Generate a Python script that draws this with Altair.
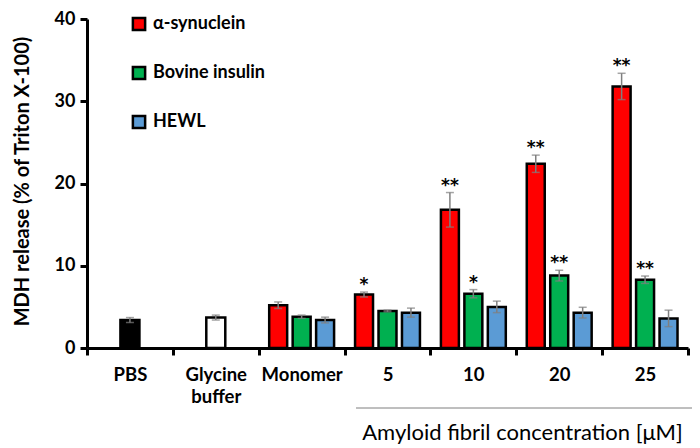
import altair as alt
import pandas as pd

FONT = "Lato"

categories = ["PBS", "Glycine buffer", "Monomer", "5", "10", "20", "25"]

control_cats = ["PBS", "Glycine buffer"]
control_mean = [3.4, 3.7]
control_err = [0.3, 0.3]

group_cats = ["Monomer", "5", "10", "20", "25"]
series = ["α-synuclein", "Bovine insulin", "HEWL"]
colors = ["#ff0000", "#00b050", "#5b9bd5"]

syn_mean = [5.2, 6.5, 16.8, 22.4, 31.8]
syn_err = [0.4, 0.3, 2.1, 1.05, 1.6]
syn_sig = ["", "*", "**", "**", "**"]

ins_mean = [3.8, 4.5, 6.6, 8.8, 8.3]
ins_err = [0.2, 0.1, 0.5, 0.65, 0.45]
ins_sig = ["", "", "*", "**", "**"]

hewl_mean = [3.4, 4.3, 5.0, 4.3, 3.6]
hewl_err = [0.35, 0.55, 0.7, 0.65, 1.0]
hewl_sig = ["", "", "", "", ""]

rows = []
for s, means, errs, sigs in zip(
    series,
    [syn_mean, ins_mean, hewl_mean],
    [syn_err, ins_err, hewl_err],
    [syn_sig, ins_sig, hewl_sig],
):
    for c, m, e, st in zip(group_cats, means, errs, sigs):
        rows.append(dict(cat=c, series=s, mean=m, lo=m - e, hi=m + e, sig=st))
grp = pd.DataFrame(rows)

ctrl = pd.DataFrame(
    dict(
        cat=control_cats,
        mean=control_mean,
        lo=[m - e for m, e in zip(control_mean, control_err)],
        hi=[m + e for m, e in zip(control_mean, control_err)],
    )
)

x_axis = alt.Axis(
    title="Amyloid fibril concentration [μM]",
    titleX=435,
    titleY=91,
    titleAlign="center",
    titleBaseline="alphabetic",
    titleFontSize=22,
    titleFontWeight="normal",
    titleFont=FONT,
    titleColor="black",
    labelAngle=0,
    labelFont=FONT,
    labelFontSize=18.5,
    labelFontWeight="bold",
    labelColor="black",
    labelPadding=10,
    labelBaseline="top",
    labelLineHeight=22,
    labelExpr="datum.value == 'Glycine buffer' ? ['Glycine', 'buffer'] : datum.value",
    tickBand="extent",
    tickSize=7,
    tickWidth=3,
    tickColor="black",
    domainColor="black",
    domainWidth=3,
    grid=False,
)

y_axis = alt.Axis(
    title="MDH release (% of Triton X-100)",
    titleFont=FONT,
    titleFontSize=20,
    titleFontWeight="bold",
    titleColor="black",
    titleX=-65,
    titleY=162,
    titleAlign="center",
    titleBaseline="middle",
    titleAngle=270,
    values=[0, 10, 20, 30, 40],
    labelFont=FONT,
    labelFontSize=18,
    labelFontWeight="bold",
    labelColor="black",
    labelPadding=5,
    tickSize=7,
    tickWidth=3,
    tickColor="black",
    domainColor="black",
    domainWidth=3,
    grid=False,
)

xs = alt.Scale(domain=categories, paddingInner=0, paddingOuter=0)
ys = alt.Scale(domain=[0, 40], nice=False)
xo = alt.XOffset(
    "series:N",
    scale=alt.Scale(domain=series, paddingInner=0.234, paddingOuter=0.447),
)


def X():
    return alt.X("cat:N", scale=xs, axis=x_axis, sort=categories)


def Y(field):
    return alt.Y(field, scale=ys, axis=y_axis)


ERR = "#7f7f7f"

ctrl_bars = alt.Chart(ctrl).mark_bar(size=19, stroke="black", strokeWidth=2.5).encode(
    x=X(),
    y=Y("mean:Q"),
    fill=alt.condition(alt.datum.cat == "PBS", alt.value("black"), alt.value("white")),
)
ctrl_err = alt.Chart(ctrl).mark_rule(color=ERR, strokeWidth=1.5).encode(
    x=X(), y=Y("lo:Q"), y2="hi:Q"
)
ctrl_cap = alt.Chart(ctrl).mark_tick(color=ERR, size=8, thickness=1.5).encode(
    x=X(), y=Y("hi:Q")
)
ctrl_cap2 = alt.Chart(ctrl).mark_tick(color=ERR, size=8, thickness=1.5).encode(
    x=X(), y=Y("lo:Q")
)

grp_bars = alt.Chart(grp).mark_bar(stroke="black", strokeWidth=2.5).encode(
    x=X(),
    xOffset=xo,
    y=Y("mean:Q"),
    fill=alt.Fill(
        "series:N",
        scale=alt.Scale(domain=series, range=colors),
        legend=alt.Legend(
            title=None,
            orient="none",
            legendX=43,
            legendY=-4,
            symbolType="square",
            symbolSize=150,
            symbolStrokeColor="black",
            symbolStrokeWidth=2.5,
            labelFont=FONT,
            labelFontSize=18,
            labelFontWeight="bold",
            labelColor="black",
            labelOffset=5,
            rowPadding=25,
        ),
    ),
)
grp_err = alt.Chart(grp).mark_rule(color=ERR, strokeWidth=1.5).encode(
    x=X(), xOffset=xo, y=Y("lo:Q"), y2="hi:Q"
)
grp_cap = alt.Chart(grp).mark_tick(color=ERR, size=8, thickness=1.5).encode(
    x=X(), xOffset=xo, y=Y("hi:Q")
)
grp_cap2 = alt.Chart(grp).mark_tick(color=ERR, size=8, thickness=1.5).encode(
    x=X(), xOffset=xo, y=Y("lo:Q")
)
grp_sig = alt.Chart(grp).mark_text(
    font="DejaVu Sans", fontSize=17, fontWeight="bold", color="black",
    baseline="middle", dy=-7,
).encode(x=X(), xOffset=xo, y=Y("hi:Q"), text="sig:N")

sep_line = alt.Chart(alt.Data(values=[{"a": 1}])).mark_rule(
    color=ERR, strokeWidth=1
).encode(x=alt.value(269), x2=alt.value(606), y=alt.value(389))

chart = (
    alt.layer(
        ctrl_bars, ctrl_err, ctrl_cap, ctrl_cap2,
        grp_bars, grp_err, grp_cap, grp_cap2, grp_sig, sep_line,
    )
    .properties(
        width=601,
        height=329,
        padding={"left": 79, "top": 11, "right": 4, "bottom": 100},
        autosize="none",
        background="white",
    )
    .configure_view(stroke=None)
)

chart.save("out.html", embed_options={"renderer": "svg", "actions": False})
